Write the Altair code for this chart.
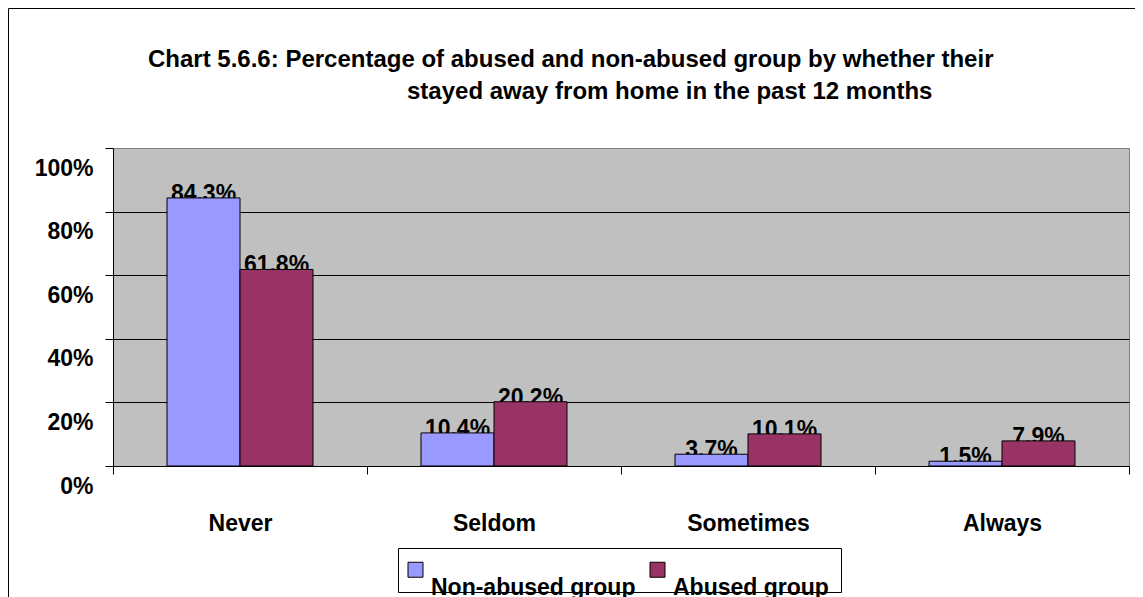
import altair as alt
import pandas as pd

categories = ["Never", "Seldom", "Sometimes", "Always"]
groups = ["Non-abused group", "Abused group"]
non_abused = [84.3, 10.4, 3.7, 1.5]
abused = [61.8, 20.2, 10.1, 7.9]
y_ticks = [0, 20, 40, 60, 80, 100]
title_line1 = "Chart 5.6.6: Percentage of abused and non-abused group by whether their"
title_line2 = "stayed away from home in the past 12 months"
colors = ["#9999FF", "#993366"]

rows = []
for i, c in enumerate(categories):
    rows.append({"category": c, "group": groups[0], "value": non_abused[i]})
    rows.append({"category": c, "group": groups[1], "value": abused[i]})
df = pd.DataFrame(rows)

FONT = "Liberation Sans"

x = alt.X(
    "category:N",
    sort=categories,
    scale=alt.Scale(paddingInner=0, paddingOuter=0),
    axis=alt.Axis(
        title=None, labelAngle=0, tickBand="extent", ticks=True, tickSize=8,
        tickColor="black", domainColor="black", labelFont=FONT, labelFontSize=23,
        labelFontWeight="bold", labelColor="black", labelPadding=38, grid=False,
    ),
)
xo = alt.XOffset("group:N", sort=groups, scale=alt.Scale(paddingInner=0, paddingOuter=0.74))
y = alt.Y(
    "value:Q",
    scale=alt.Scale(domain=[0, 100], nice=False),
    axis=alt.Axis(
        title=None, values=y_ticks, labelExpr="datum.value + '%'", tickSize=8,
        tickColor="black", domainColor="black", grid=True,
        gridColor={"condition": {"test": "datum.value === 100", "value": "#808080"}, "value": "black"},
        labelFont=FONT, labelFontSize=23, labelFontWeight="bold", labelColor="black",
        labelPadding=12, labelBaseline="middle", labelOffset=20, labelAlign="right",
    ),
)
color = alt.Color(
    "group:N",
    sort=groups,
    scale=alt.Scale(domain=groups, range=colors),
    legend=alt.Legend(
        title=None, orient="none", legendX=291, legendY=410, direction="horizontal",
        symbolType="square", symbolSize=225, symbolStrokeColor="black", symbolStrokeWidth=1,
        labelFont=FONT, labelFontSize=23, labelFontWeight="bold", labelColor="black",
        labelBaseline="alphabetic", labelExpr="['', datum.label]", labelLimit=500,
        labelOffset=4, columnPadding=10, padding=0,
    ),
)

base = alt.Chart(df)

labels = base.transform_calculate(
    label="format(datum.value, '.1f') + '%'"
).mark_text(
    baseline="alphabetic", dy=3, font=FONT, fontSize=23, fontWeight="bold", color="black"
).encode(x=x, xOffset=xo, y=y, text="label:N")

bars = base.mark_bar(stroke="black", strokeWidth=1).encode(x=x, xOffset=xo, y=y, color=color)

deco = pd.DataFrame({"k": [0]})
border_top = alt.Chart(deco).mark_rule(color="black", strokeWidth=1).encode(
    x=alt.value(-104.5), x2=alt.value(1040), y=alt.value(-139.5), y2=alt.value(-139.5)
)
border_left = alt.Chart(deco).mark_rule(color="black", strokeWidth=1).encode(
    x=alt.value(-104.5), x2=alt.value(-104.5), y=alt.value(-139.5), y2=alt.value(470)
)
legend_box = alt.Chart(deco).mark_rect(fillOpacity=0, stroke="black", strokeWidth=1).encode(
    x=alt.value(285.5), x2=alt.value(728.5), y=alt.value(400.5), y2=alt.value(444.5)
)
title_style = dict(font=FONT, fontSize=24, fontWeight="bold", color="black",
                   align="left", baseline="alphabetic")
title1 = alt.Chart(deco).mark_text(**title_style).encode(
    x=alt.value(35), y=alt.value(-81.5), text=alt.value(title_line1)
)
title2 = alt.Chart(deco).mark_text(**title_style).encode(
    x=alt.value(294), y=alt.value(-49), text=alt.value(title_line2)
)

chart = alt.layer(border_top, border_left, title1, title2, labels, bars, legend_box).properties(
    width=1016,
    height=318,
    background="white",
    autosize=alt.AutoSizeParams(type="none"),
    padding={"left": 105, "top": 140, "right": 6, "bottom": 140},
).configure_view(
    fill="#C0C0C0", stroke="#808080", strokeWidth=1
)

chart.save("out.html", embed_options={"renderer": "svg", "actions": False})
